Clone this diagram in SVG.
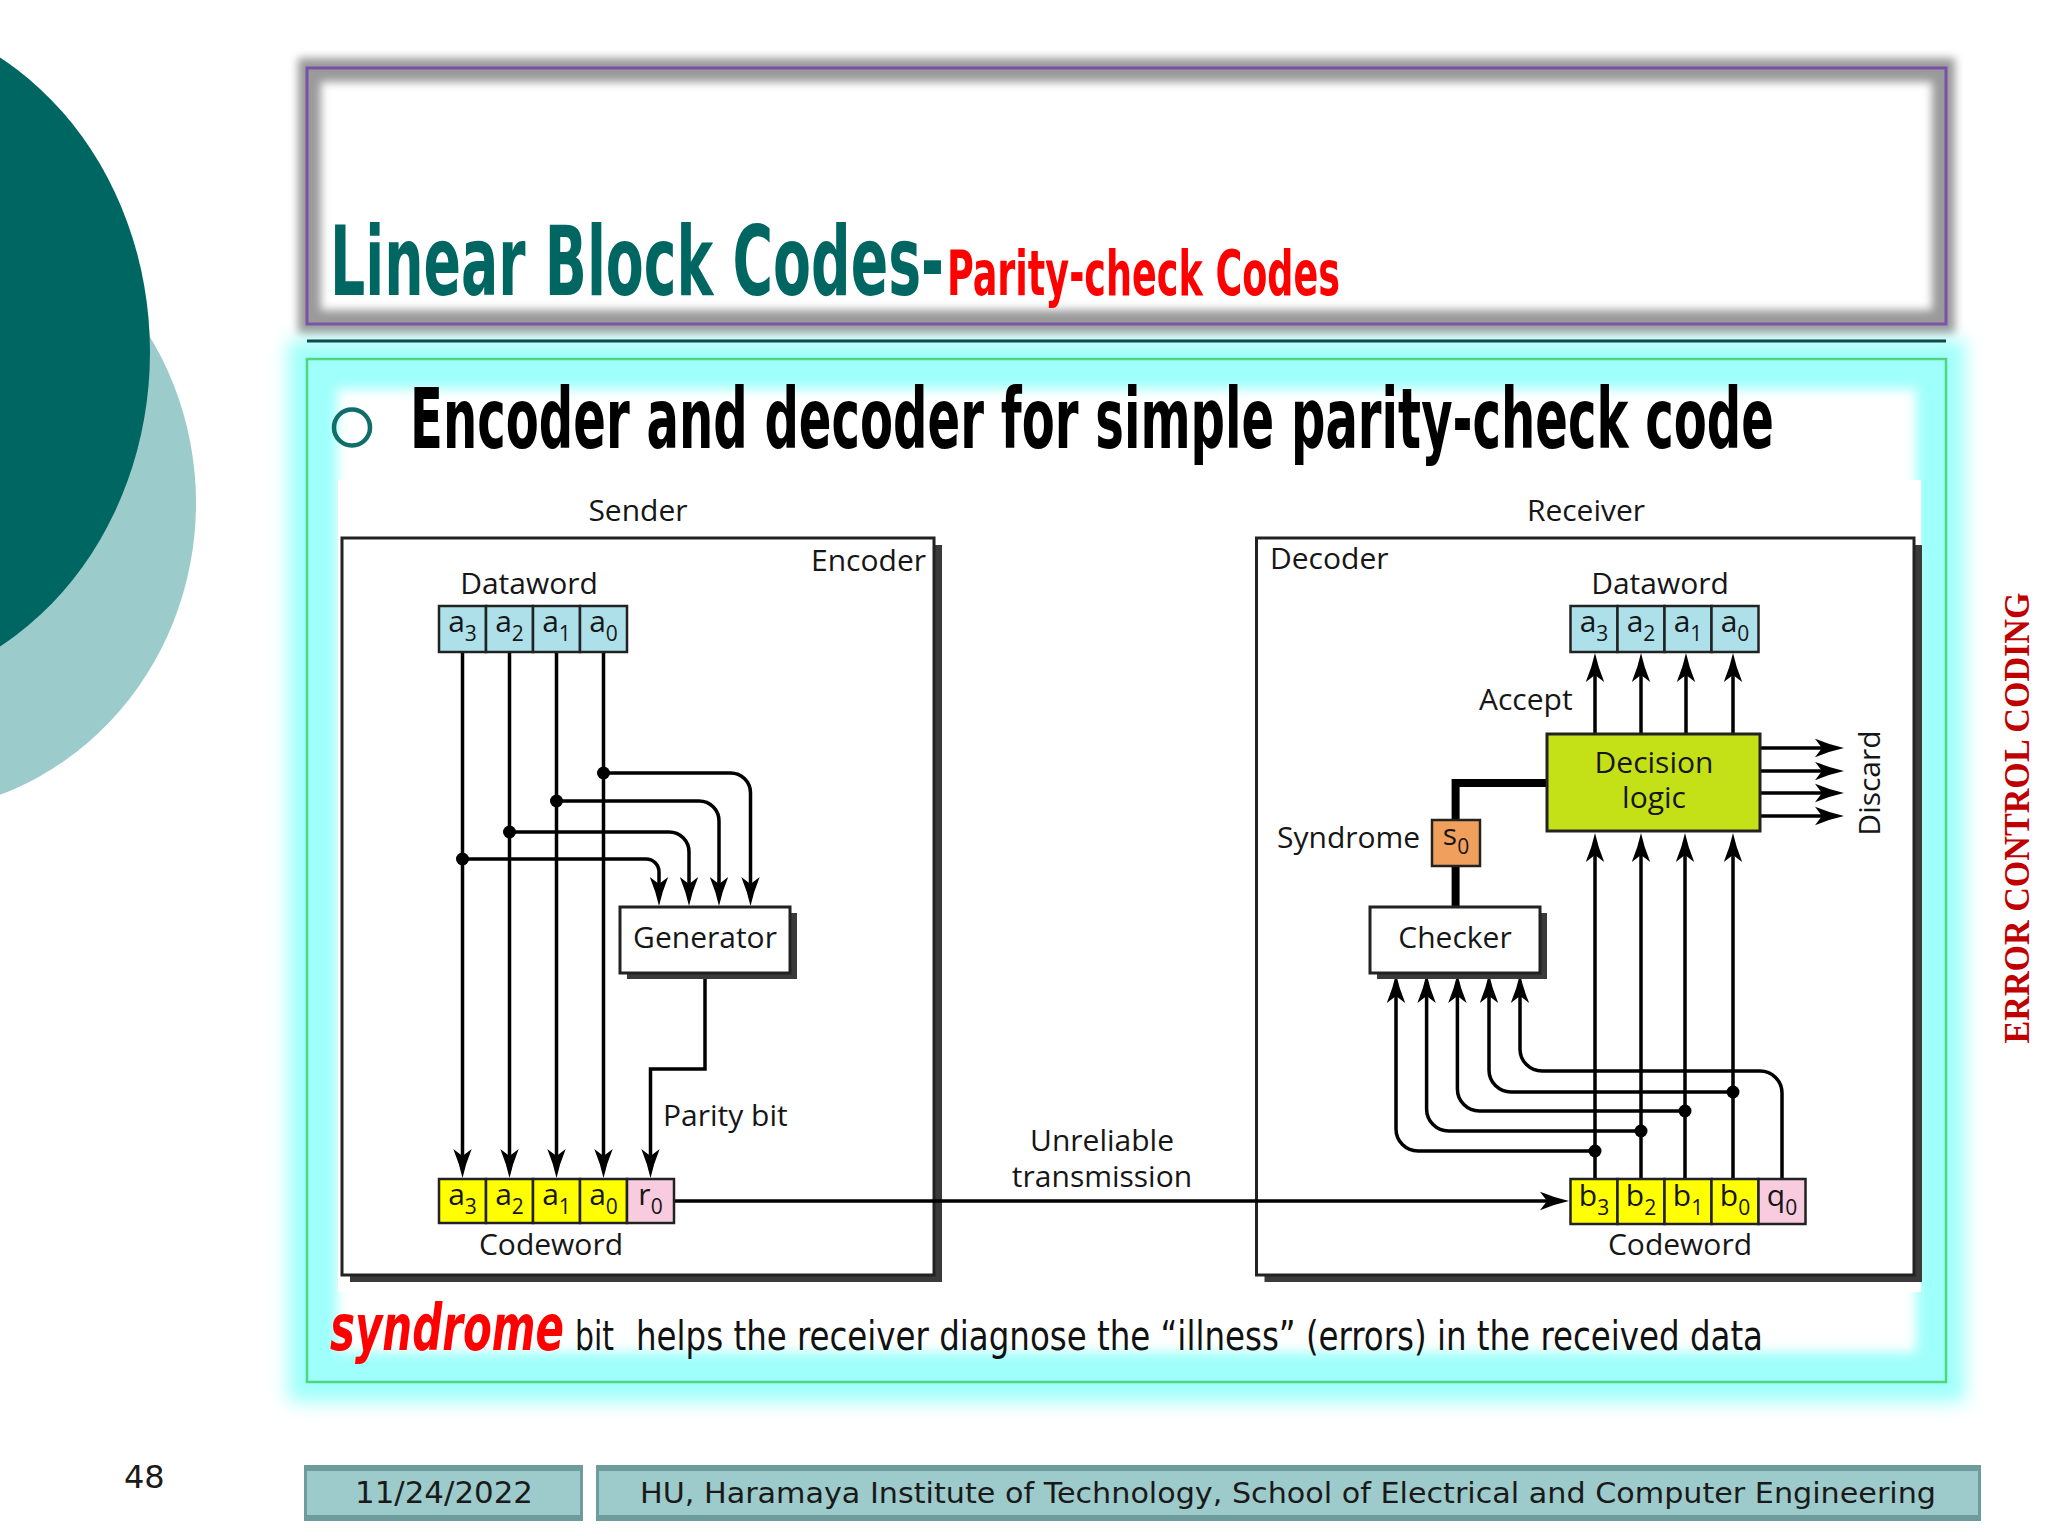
<svg xmlns="http://www.w3.org/2000/svg" width="2048" height="1536" viewBox="0 0 2048 1536">
<defs>
<style>
.lbl{font-family:"Open Sans","Noto Sans","DejaVu Sans",sans-serif;font-size:30px;fill:#161616}
.sub{font-size:21px}
.ln{fill:none;stroke:#000;stroke-width:3.5}
.arr{marker-end:url(#ah)}
.thick{fill:none;stroke:#000;stroke-width:8;stroke-linejoin:miter}
.frame{fill:#fff;stroke:#222;stroke-width:3}
.sh{fill:#3a3a3a}
.dot{fill:#000}
.cellB{fill:#aee0ea;stroke:#222;stroke-width:2.5}
.cellY{fill:#ffff00;stroke:#222;stroke-width:2.5}
.cellP{fill:#f8cbdf;stroke:#222;stroke-width:2.5}
.cond{font-family:"DejaVu Sans Condensed","DejaVu Sans",sans-serif}
.foot{font-family:"DejaVu Sans","Liberation Sans",sans-serif;fill:#1a1a1a}
</style>
<marker id="ah" markerUnits="userSpaceOnUse" viewBox="0 0 30 20" refX="22" refY="10" markerWidth="30" markerHeight="20" orient="auto">
<path d="M30,10 Q16,7 1,0.8 L8,10 L1,19.2 Q16,13 30,10 Z" fill="#000"/>
</marker>
<filter id="b4"><feGaussianBlur stdDeviation="4"/></filter>
<filter id="b6"><feGaussianBlur stdDeviation="6"/></filter>
<filter id="b9"><feGaussianBlur stdDeviation="9"/></filter>
</defs>

<rect width="2048" height="1536" fill="#fff"/>

<g id="decor">
<ellipse cx="-100" cy="503" rx="296" ry="310" fill="#9ccbcb"/>
<ellipse cx="-150" cy="352" rx="300" ry="340" fill="#006661"/>
</g>

<g id="title-box">
<rect x="298" y="58" width="1657" height="276" fill="#9a9a9a" filter="url(#b4)"/>
<rect x="307" y="68" width="1639" height="256" fill="#9a9a9a"/>
<rect x="321" y="82" width="1611" height="228" fill="#fff" filter="url(#b4)"/>
<rect x="307" y="68" width="1639" height="256" fill="none" stroke="#7a50a6" stroke-width="3"/>
<text x="330" y="295" class="cond" font-weight="bold" font-size="96" fill="#006661" textLength="614" lengthAdjust="spacingAndGlyphs">Linear Block Codes-</text>
<text x="947" y="295" class="cond" font-weight="bold" font-size="62" fill="#ff0000" textLength="393" lengthAdjust="spacingAndGlyphs">Parity-check Codes</text>
</g>

<g id="content-box">
<rect x="288" y="340" width="1677" height="1062" fill="#9ffffb" filter="url(#b9)"/>
<rect x="307" y="359" width="1639" height="1023" fill="#9ffffb"/>
<rect x="337" y="389" width="1579" height="963" fill="#fff" filter="url(#b6)"/>
<rect x="338" y="480" width="1583" height="812" fill="#fff"/>
<rect x="307" y="359" width="1639" height="1023" fill="none" stroke="#4fd67c" stroke-width="2.5"/>
<line x1="307" y1="341" x2="1946" y2="341" stroke="#0b4b4b" stroke-width="3"/>
</g>

<g id="heading">
<circle cx="352" cy="427.5" r="18" fill="none" stroke="#0f6e6a" stroke-width="4.5"/>
<text x="410" y="448" class="cond" font-weight="bold" font-size="84" fill="#000" textLength="1364" lengthAdjust="spacingAndGlyphs">Encoder and decoder for simple parity-check code</text>
</g>

<g id="sender-label"><text x="638" y="521" class="lbl" text-anchor="middle">Sender</text></g>
<g id="receiver-label"><text x="1586" y="521" class="lbl" text-anchor="middle">Receiver</text></g>

<g id="encoder">
<rect x="350" y="545" width="592" height="737" class="sh"/>
<rect x="342" y="538" width="592" height="737" class="frame"/>
<text x="926" y="571" class="lbl" text-anchor="end">Encoder</text>
</g>

<g id="decoder">
<rect x="1264.5" y="545" width="657.5" height="737" class="sh"/>
<rect x="1256.5" y="538" width="657.5" height="737" class="frame"/>
<text x="1270" y="569" class="lbl">Decoder</text>
</g>

<g id="connectors">
<!-- encoder data lines -->
<path class="ln arr" d="M462.5,652 V1170"/>
<path class="ln arr" d="M509.5,652 V1170"/>
<path class="ln arr" d="M556.5,652 V1170"/>
<path class="ln arr" d="M603.5,652 V1170"/>
<!-- to generator -->
<path class="ln arr" d="M603.5,773 H730.5 A20,20 0 0 1 750.5,793 V898"/>
<path class="ln arr" d="M556.5,801 H699 A20,20 0 0 1 719,821 V898"/>
<path class="ln arr" d="M509.5,832 H669 A20,20 0 0 1 689,852 V898"/>
<path class="ln arr" d="M462.5,859 H646 A13,13 0 0 1 659,872 V898"/>
<!-- parity -->
<path class="ln arr" d="M705,973 V1069 H650.5 V1170"/>
<!-- transmission -->
<path class="ln arr" d="M674,1201 H1561"/>
<!-- decoder: to decision logic -->
<path class="ln arr" d="M1595,1179 V841"/>
<path class="ln arr" d="M1641,1179 V841"/>
<path class="ln arr" d="M1685,1179 V841"/>
<path class="ln arr" d="M1733,1179 V841"/>
<!-- accept -->
<path class="ln arr" d="M1595,734 V661"/>
<path class="ln arr" d="M1641,734 V661"/>
<path class="ln arr" d="M1686,734 V661"/>
<path class="ln arr" d="M1733,734 V661"/>
<!-- discard -->
<path class="ln arr" d="M1760,748 H1836"/>
<path class="ln arr" d="M1760,771 H1836"/>
<path class="ln arr" d="M1760,793 H1836"/>
<path class="ln arr" d="M1760,816 H1836"/>
<!-- to checker -->
<path class="ln arr" d="M1595,1151 H1418 A22,22 0 0 1 1396,1129 V982"/>
<path class="ln arr" d="M1641,1131 H1448.6 A22,22 0 0 1 1426.6,1109 V982"/>
<path class="ln arr" d="M1685,1111 H1479.4 A22,22 0 0 1 1457.4,1089 V982"/>
<path class="ln arr" d="M1733,1092 H1511 A22,22 0 0 1 1489,1070 V982"/>
<path class="ln arr" d="M1782,1179 V1093 A22,22 0 0 0 1760,1071 H1542 A22,22 0 0 1 1520,1049 V982"/>
<!-- syndrome -->
<path class="thick" d="M1547,783 H1455.6 V820"/>
<path class="thick" d="M1455.6,866 V907"/>
<!-- junction dots -->
<circle class="dot" cx="603.5" cy="773" r="6.5"/>
<circle class="dot" cx="556.5" cy="801" r="6.5"/>
<circle class="dot" cx="509.5" cy="832" r="6.5"/>
<circle class="dot" cx="462.5" cy="859" r="6.5"/>
<circle class="dot" cx="1595" cy="1151" r="6.5"/>
<circle class="dot" cx="1641" cy="1131" r="6.5"/>
<circle class="dot" cx="1685" cy="1111" r="6.5"/>
<circle class="dot" cx="1733" cy="1092" r="6.5"/>
</g>

<g id="enc-dataword">
<text x="529" y="594" class="lbl" text-anchor="middle">Dataword</text>
<rect x="439" y="606" width="47" height="46" class="cellB"/>
<rect x="486" y="606" width="47" height="46" class="cellB"/>
<rect x="533" y="606" width="47" height="46" class="cellB"/>
<rect x="580" y="606" width="47" height="46" class="cellB"/>
<text x="462.5" y="632" class="lbl" text-anchor="middle">a<tspan class="sub" dy="9">3</tspan></text>
<text x="509.5" y="632" class="lbl" text-anchor="middle">a<tspan class="sub" dy="9">2</tspan></text>
<text x="556.5" y="632" class="lbl" text-anchor="middle">a<tspan class="sub" dy="9">1</tspan></text>
<text x="603.5" y="632" class="lbl" text-anchor="middle">a<tspan class="sub" dy="9">0</tspan></text>
</g>

<g id="generator">
<rect x="627" y="913" width="170" height="66" class="sh"/>
<rect x="620" y="907" width="170" height="66" class="frame"/>
<text x="705" y="948" class="lbl" text-anchor="middle">Generator</text>
</g>

<g id="parity-label"><text x="663" y="1126" class="lbl">Parity bit</text></g>

<g id="enc-codeword">
<rect x="439" y="1179" width="47" height="44" class="cellY"/>
<rect x="486" y="1179" width="47" height="44" class="cellY"/>
<rect x="533" y="1179" width="47" height="44" class="cellY"/>
<rect x="580" y="1179" width="47" height="44" class="cellY"/>
<rect x="627" y="1179" width="47" height="44" class="cellP"/>
<text x="462.5" y="1205" class="lbl" text-anchor="middle">a<tspan class="sub" dy="9">3</tspan></text>
<text x="509.5" y="1205" class="lbl" text-anchor="middle">a<tspan class="sub" dy="9">2</tspan></text>
<text x="556.5" y="1205" class="lbl" text-anchor="middle">a<tspan class="sub" dy="9">1</tspan></text>
<text x="603.5" y="1205" class="lbl" text-anchor="middle">a<tspan class="sub" dy="9">0</tspan></text>
<text x="650.5" y="1205" class="lbl" text-anchor="middle">r<tspan class="sub" dy="9">0</tspan></text>
<text x="551" y="1255" class="lbl" text-anchor="middle">Codeword</text>
</g>

<g id="transmission-label">
<text x="1102" y="1151" class="lbl" text-anchor="middle">Unreliable</text>
<text x="1102" y="1187" class="lbl" text-anchor="middle">transmission</text>
</g>

<g id="dec-dataword">
<text x="1660" y="594" class="lbl" text-anchor="middle">Dataword</text>
<rect x="1570.5" y="606" width="47" height="46" class="cellB"/>
<rect x="1617.5" y="606" width="47" height="46" class="cellB"/>
<rect x="1664.5" y="606" width="47" height="46" class="cellB"/>
<rect x="1711.5" y="606" width="47" height="46" class="cellB"/>
<text x="1594" y="632" class="lbl" text-anchor="middle">a<tspan class="sub" dy="9">3</tspan></text>
<text x="1641" y="632" class="lbl" text-anchor="middle">a<tspan class="sub" dy="9">2</tspan></text>
<text x="1688" y="632" class="lbl" text-anchor="middle">a<tspan class="sub" dy="9">1</tspan></text>
<text x="1735" y="632" class="lbl" text-anchor="middle">a<tspan class="sub" dy="9">0</tspan></text>
</g>

<g id="accept-label"><text x="1479" y="710" class="lbl">Accept</text></g>

<g id="decision-logic">
<rect x="1547" y="734" width="213" height="97" fill="#c4e117" stroke="#222" stroke-width="3"/>
<text x="1654" y="773" class="lbl" text-anchor="middle">Decision</text>
<text x="1654" y="808" class="lbl" text-anchor="middle">logic</text>
</g>

<g id="discard-label"><text transform="translate(1880,783) rotate(-90)" class="lbl" text-anchor="middle" font-size="28">Discard</text></g>

<g id="syndrome">
<text x="1277" y="848" class="lbl">Syndrome</text>
<rect x="1432" y="820" width="48" height="46" fill="#f0a05c" stroke="#222" stroke-width="2.5"/>
<text x="1456" y="845" class="lbl" text-anchor="middle">s<tspan class="sub" dy="9">0</tspan></text>
</g>

<g id="checker">
<rect x="1377" y="913" width="170" height="66" class="sh"/>
<rect x="1370" y="907" width="170" height="66" class="frame"/>
<text x="1455" y="948" class="lbl" text-anchor="middle">Checker</text>
</g>

<g id="dec-codeword">
<rect x="1570.5" y="1179" width="47" height="45" class="cellY"/>
<rect x="1617.5" y="1179" width="47" height="45" class="cellY"/>
<rect x="1664.5" y="1179" width="47" height="45" class="cellY"/>
<rect x="1711.5" y="1179" width="47" height="45" class="cellY"/>
<rect x="1758.5" y="1179" width="47" height="45" class="cellP"/>
<text x="1594" y="1206" class="lbl" text-anchor="middle">b<tspan class="sub" dy="9">3</tspan></text>
<text x="1641" y="1206" class="lbl" text-anchor="middle">b<tspan class="sub" dy="9">2</tspan></text>
<text x="1688" y="1206" class="lbl" text-anchor="middle">b<tspan class="sub" dy="9">1</tspan></text>
<text x="1735" y="1206" class="lbl" text-anchor="middle">b<tspan class="sub" dy="9">0</tspan></text>
<text x="1782" y="1206" class="lbl" text-anchor="middle">q<tspan class="sub" dy="9">0</tspan></text>
<text x="1680" y="1255" class="lbl" text-anchor="middle">Codeword</text>
</g>

<g id="note">
<text x="330" y="1350" class="cond" font-weight="bold" font-style="italic" font-size="64" fill="#ff0000" textLength="234" lengthAdjust="spacingAndGlyphs">syndrome</text>
<text x="575" y="1350" class="cond" font-size="40" fill="#111" textLength="39" lengthAdjust="spacingAndGlyphs">bit</text>
<text x="636" y="1350" class="cond" font-size="40" fill="#111" textLength="1127" lengthAdjust="spacingAndGlyphs">helps the receiver diagnose the “illness” (errors) in the received data</text>
</g>

<g id="side-title">
<text transform="translate(2029,818) rotate(-90)" text-anchor="middle" font-family="Liberation Serif,serif" font-weight="bold" font-size="36" fill="#c00000" textLength="451" lengthAdjust="spacingAndGlyphs">ERROR CONTROL CODING</text>
</g>

<g id="footer">
<text x="124" y="1488" class="foot" font-size="32">48</text>
<rect x="304" y="1465" width="279" height="56" fill="#6e9c9c"/>
<rect x="307" y="1471" width="273" height="44" fill="#9dcaca"/>
<text x="444" y="1503" class="foot" font-size="30" text-anchor="middle" textLength="178" lengthAdjust="spacingAndGlyphs">11/24/2022</text>
<rect x="596" y="1465" width="1385" height="56" fill="#6e9c9c"/>
<rect x="599" y="1471" width="1379" height="44" fill="#9dcaca"/>
<text x="1288" y="1503" class="foot" font-size="29" text-anchor="middle" textLength="1296" lengthAdjust="spacingAndGlyphs">HU, Haramaya Institute of Technology, School of Electrical and Computer Engineering</text>
</g>
</svg>
